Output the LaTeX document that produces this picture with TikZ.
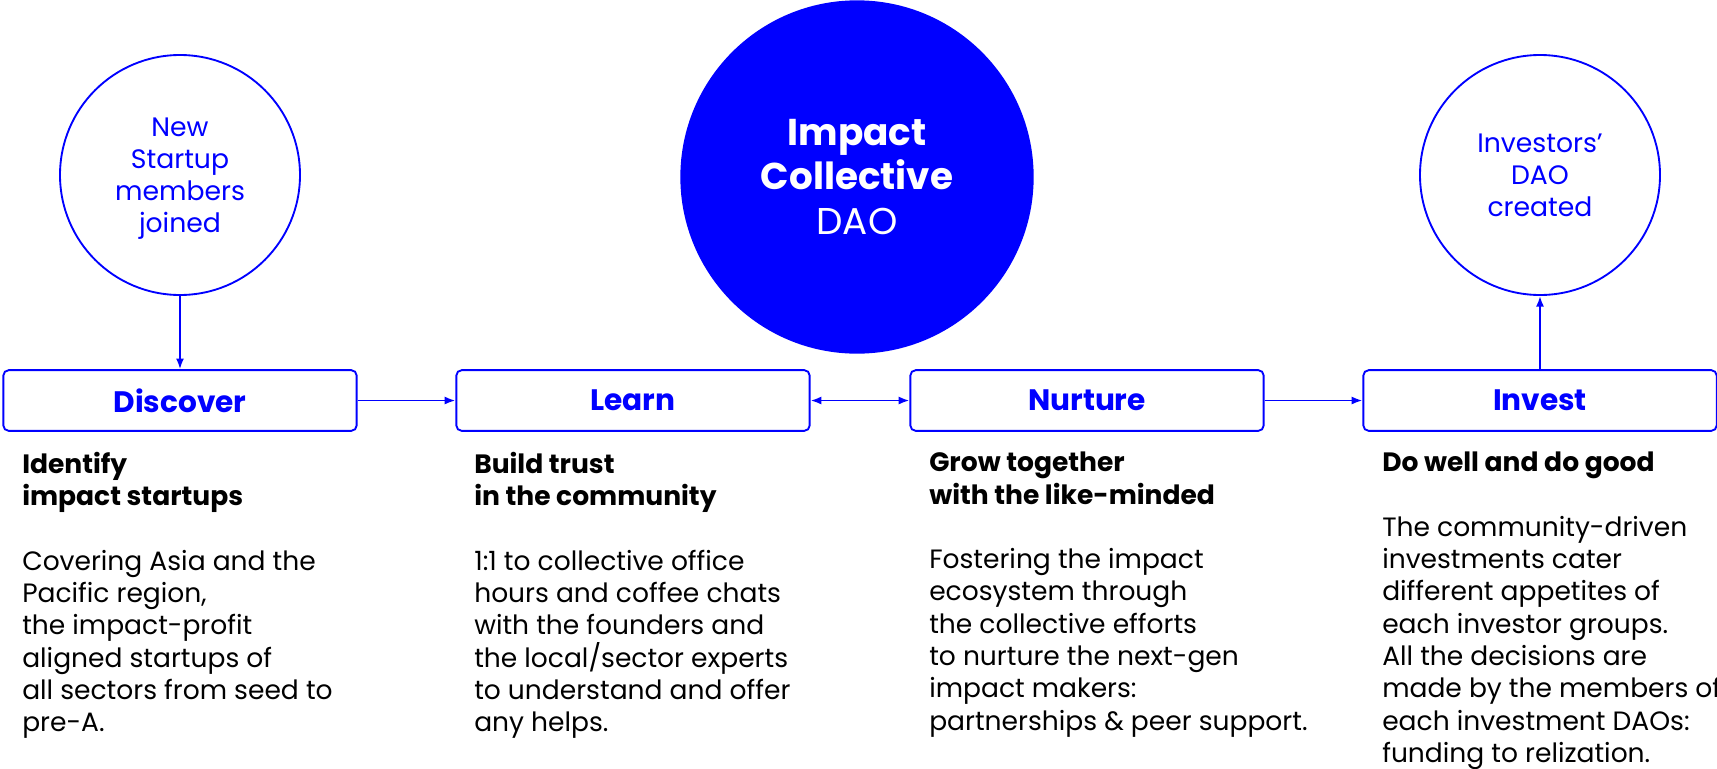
\documentclass[tikz,border=0pt]{standalone}
\usepackage{fontspec}
\setmainfont{Poppins}
\usetikzlibrary{arrows.meta}
\definecolor{daoblue}{RGB}{0,0,255}

\begin{document}
\begin{tikzpicture}[x=0.75pt,y=-0.75pt,
    stage/.style={draw=daoblue,line width=1.4pt,rounded corners=4pt,
      minimum width=265pt,minimum height=45.5pt,text=daoblue,
      font=\fontsize{22.2}{26}\selectfont\bfseries},
    bubble/.style={circle,draw=daoblue,line width=1.4pt,minimum size=180pt,
      inner sep=0pt,text=daoblue,align=center,text depth=0pt,
      font=\fontsize{20}{24}\selectfont},
    blurb/.style={anchor=north west,inner sep=0pt,align=left,
      font=\fontsize{19.9}{24.2}\selectfont},
    link/.style={draw=daoblue,line width=1.4pt,-{Latex[length=8pt,width=6pt]}}]
        \useasboundingbox (0,0) rectangle (1717,768);

        % the collective
        \node [circle,fill=daoblue,minimum size=265pt,inner sep=0pt,text=white,
          align=center,font=\fontsize{28}{33.5}\selectfont] (collective) at (857,177)
          {\textbf{Impact}\\\textbf{Collective}\\DAO};

        \node [bubble] (startups) at (180,175) {New\\Startup\\members\\joined};
        \node [bubble] (investors) at (1540,175) {Investors’\\DAO\\created};

        \node [stage] (discover) at (180,400.5) {Discover};
        \node [stage] (learn) at (633,400.5) {Learn};
        \node [stage] (nurture) at (1087,400.5) {Nurture};
        \node [stage] (invest) at (1540,400.5) {Invest};

        \draw [link] (startups) -- (discover);
        \draw [link] (discover) -- (learn);
        \draw [link,{Latex[length=8pt,width=6pt]}-{Latex[length=8pt,width=6pt]}] (learn) -- (nurture);
        \draw [link] (nurture) -- (invest);
        \draw [link] (invest) -- (investors);

        % what each stage means
        \node [blurb] (discovertext) at (22,452) {\textbf{Identify}\\\textbf{impact startups}\\[24.2pt]
          Covering Asia and the\\Pacific region,\\the impact-profit\\aligned startups of\\all sectors from seed to\\pre-A.};
        \node [blurb] (learntext) at (474,452) {\textbf{Build trust}\\\textbf{in the community}\\[24.2pt]
          1:1 to collective office\\hours and coffee chats\\with the founders and\\the local/sector experts\\to understand and offer\\any helps.};
        \node [blurb] (nurturetext) at (929,452) {\textbf{Grow together}\\\textbf{with the like-minded}\\[24.2pt]
          Fostering the impact\\ecosystem through\\the collective efforts\\to nurture the next-gen\\impact makers:\\partnerships \& peer support.};
        \node [blurb] (investtext) at (1382,452) {\textbf{Do well and do good}\\[24.2pt]
          The community-driven\\investments cater\\different appetites of\\each investor groups.\\All the decisions are\\made by the members of\\each investment DAOs:\\funding to relization.};
      \end{tikzpicture}
\end{document}
